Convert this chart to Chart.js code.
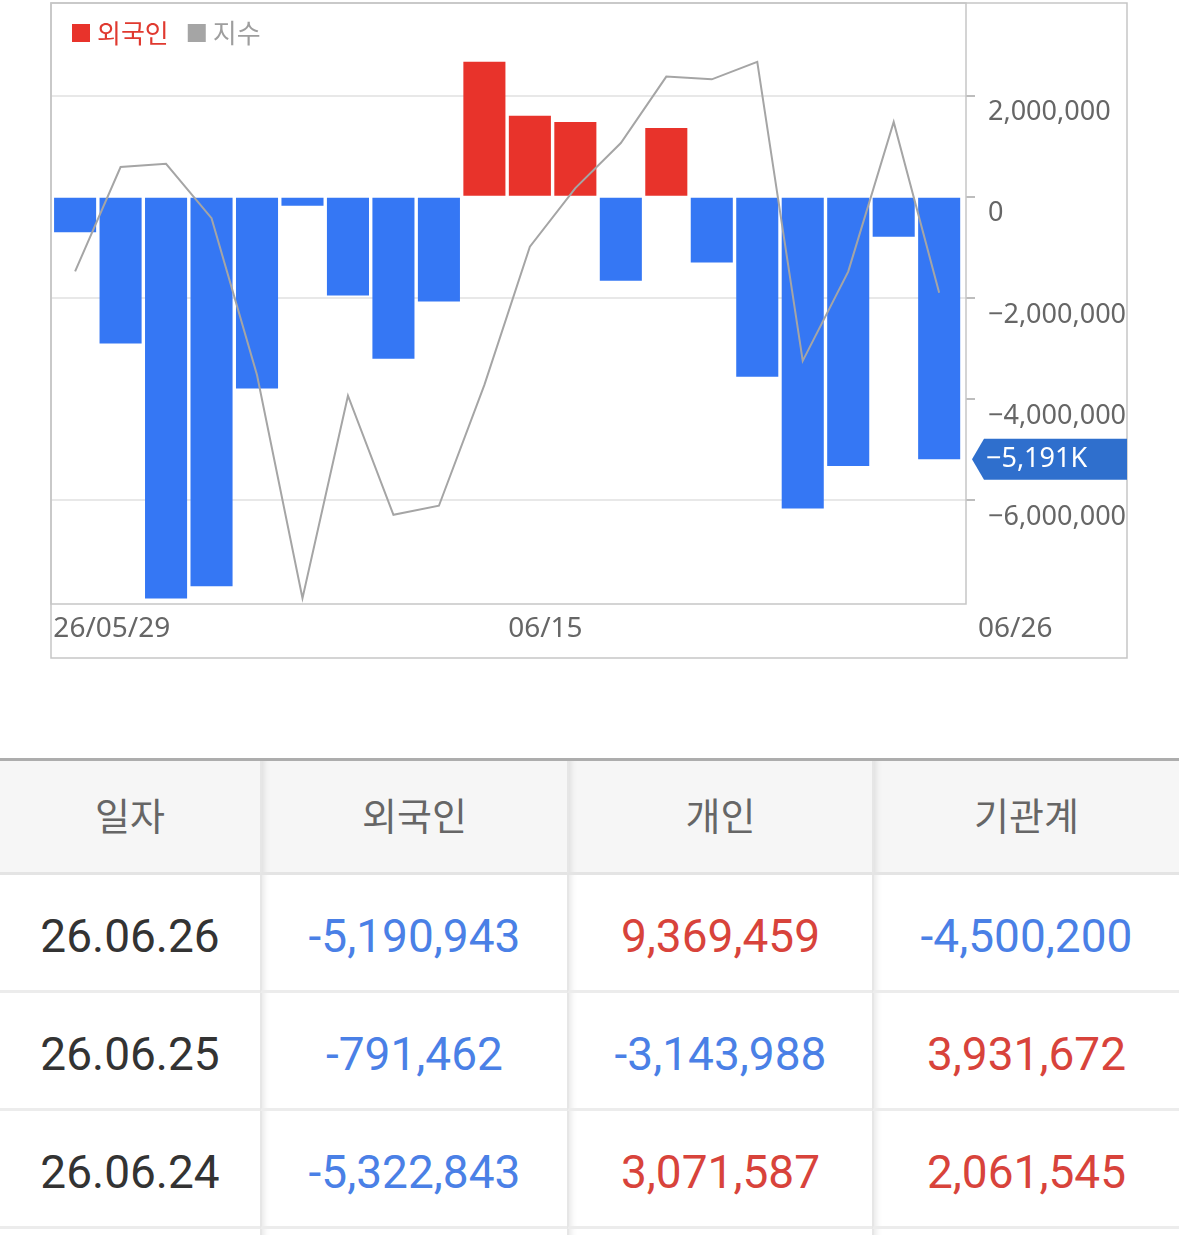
<!DOCTYPE html>
<html>
<head>
<meta charset="utf-8">
<script src="https://cdn.jsdelivr.net/npm/chart.js@4.4.0/dist/chart.umd.min.js"></script>
<style>
html,body{margin:0;padding:0;background:#fff;width:1179px;height:1235px;overflow:hidden;}
#wrap{position:absolute;left:0;top:0;width:1179px;height:660px;}
#tbl{position:absolute;left:0;top:758px;width:1179px;border-collapse:separate;border-spacing:0;table-layout:fixed;border-top:3px solid #adadad;}
#tbl th{height:105px;padding:0 0 6px 0;background:#f6f6f6;color:#666;font:400 38px "Noto Sans CJK KR","Noto Sans";border-bottom:3px solid #e4e4e4;text-align:center;}
#tbl td{height:108px;padding:7px 0 0 0;font:400 46px Roboto,"Noto Sans";text-align:center;border-bottom:3px solid #ececec;}
#tbl th+th,#tbl td+td{border-left:2px solid #e6e6e6;box-shadow:inset 8px 0 6px -6px rgba(0,0,0,0.10);}
#tbl td.date{color:#333;}
#tbl td.pos{color:#d8433b;}
#tbl td.neg{color:#4a80e6;}
#tbl tr.spacer td{height:30px;padding:0;}
</style>
</head>
<body>
<div id="wrap"><canvas id="c"></canvas></div>
<table id="tbl">
<colgroup><col style="width:260px"><col style="width:307px"><col style="width:305px"><col style="width:307px"></colgroup>
<thead><tr id="hdr"></tr></thead>
<tbody id="body"></tbody>
</table>
<script>
// ---- chart data ----
const dates = ['05/29','06/01','06/02','06/04','06/05','06/08','06/09','06/10','06/11','06/12','06/15','06/16','06/17','06/18','06/19','06/22','06/23','06/24','06/25','06/26'];
const foreignNet = [-700000,-2900000,-7940000,-7700000,-3790000,-180000,-1950000,-3200000,-2070000,2670000,1600000,1480000,-1660000,1360000,-1300000,-3560000,-6160000,-5322843,-791462,-5190943];
const indexValues = [2810.7,2845.4,2846.5,2828.4,2776.2,2701.9,2769.3,2729.7,2732.7,2772.9,2818.9,2838.4,2853.4,2875.5,2874.6,2880.4,2780.9,2810.6,2860.4,2803.6];
const xTickIndices = [0,10,19];
const xTickLabels = ['26/05/29','06/15','06/26'];
const yTickValues = [-6000000,-4000000,-2000000,0,2000000];
const yGridValues = [-6000000,-2000000,2000000];
const seriesLabels = ['외국인','지수'];

// ---- table data ----
const tableHeaders = ['일자','외국인','개인','기관계'];
const tableDates = ['26.06.26','26.06.25','26.06.24'];
const tableForeign = [-5190943,-791462,-5322843];
const tableIndividual = [9369459,-3143988,3071587];
const tableInstitution = [-4500200,3931672,2061545];

const RED = '#e8332b', BLUE = '#3577f4', GRAY = '#a5a5a5', FRAME = '#c6c6c6';
const TICKFONT = '"Noto Sans", "DejaVu Sans", sans-serif';

function fmt(v){ const s = Math.abs(v).toLocaleString('en-US'); return v < 0 ? '\u2212' + s : s; }

const framePlugin = {
  id:'frame',
  afterDraw(chart){
    const {ctx, chartArea:a} = chart;
    const ys = chart.scales.y, xs = chart.scales.x;
    ctx.save();
    ctx.strokeStyle = FRAME; ctx.lineWidth = 1.5;
    ctx.strokeRect(a.left, a.top, a.right - a.left, a.bottom - a.top);
    ctx.strokeRect(a.left, a.top, ys.right - a.left, a.bottom - a.top + 54);
    // x labels
    const half = (xs.getPixelForValue(1) - xs.getPixelForValue(0)) / 2;
    ctx.fillStyle = '#666'; ctx.font = '28px ' + TICKFONT;
    ctx.textBaseline = 'middle'; ctx.textAlign = 'left';
    xTickIndices.forEach((idx, k) => {
      let x = xs.getPixelForValue(idx) - half + 1;
      if (k === xTickIndices.length - 1) x = a.right + 12;
      ctx.fillText(xTickLabels[k], x, a.bottom + 25);
    });
    // legend
    ctx.font = '26px "Noto Sans CJK KR", sans-serif';
    let lx = a.left + 21; const ly = a.top + 30;
    const legendItems = [[seriesLabels[0], RED, '#e0392f'], [seriesLabels[1], GRAY, '#9e9e9e']];
    legendItems.forEach(([t, sq, tc]) => {
      ctx.fillStyle = sq; ctx.fillRect(lx, ly - 9, 18, 18);
      lx += 25;
      ctx.fillStyle = tc; ctx.fillText(t, lx, ly);
      lx += ctx.measureText(t).width + 19;
    });
    // current value tag
    const v = foreignNet[foreignNet.length - 1];
    const y = ys.getPixelForValue(v);
    const tip = a.right + 6, body = a.right + 18, right = ys.right, h = 20.5;
    ctx.fillStyle = '#2f6fcd';
    ctx.beginPath();
    ctx.moveTo(tip, y); ctx.lineTo(body, y - h); ctx.lineTo(right, y - h);
    ctx.lineTo(right, y + h); ctx.lineTo(body, y + h); ctx.closePath(); ctx.fill();
    ctx.fillStyle = '#fff'; ctx.font = '27px ' + TICKFONT;
    ctx.fillText(fmt(Math.round(v / 1000)) + 'K', body + 2, y);
    ctx.restore();
  }
};

new Chart(document.getElementById('c'), {
  data:{
    datasets:[
      { type:'line', label: seriesLabels[1], data: indexValues.map((v, i) => ({x:i, y:v})), yAxisID:'y2', borderColor: GRAY, borderWidth: 2, pointRadius: 0, tension: 0, order: 0 },
      { type:'bar', label: seriesLabels[0], data: foreignNet.map((v, i) => ({x:i, y:v})), yAxisID:'y', backgroundColor: foreignNet.map(v => v >= 0 ? RED : BLUE), barPercentage: 0.925, categoryPercentage: 1.0, order: 1 }
    ]
  },
  options:{
    responsive:true, maintainAspectRatio:false, animation:false,
    layout:{ padding:{ left:51, top:3, right:52, bottom:56 } },
    plugins:{ legend:{display:false}, tooltip:{enabled:false} },
    scales:{
      x:{ type:'linear', display:false, offset:false, min:-0.53, max:19.59 },
      y:{
        position:'right', min:-8050000, max:3830000,
        afterBuildTicks(s){ s.ticks = yTickValues.map(v => ({value:v})); },
        afterFit(s){ s.width = 161; s.paddingTop = 0; s.paddingBottom = 0; },
        grid:{ color: c => (c.tick && yGridValues.includes(c.tick.value)) ? '#e8e8e8' : 'rgba(0,0,0,0)', lineWidth:2, tickLength:9, tickColor:'#bdbdbd', tickWidth:2, drawOnChartArea:true },
        border:{ display:false },
        ticks:{ font:{ size:27, family: TICKFONT }, color:'#666', padding:13, labelOffset:17, callback: v => fmt(v) }
      },
      y2:{ display:false, min:2700, max:2900 }
    }
  },
  plugins:[framePlugin]
});

// ---- table ----
const hdr = document.getElementById('hdr');
tableHeaders.forEach(h => { const th = document.createElement('th'); th.textContent = h; hdr.appendChild(th); });
const body = document.getElementById('body');
tableDates.forEach((d, i) => {
  const tr = document.createElement('tr');
  const cells = [[d, 'date'], ...[tableForeign[i], tableIndividual[i], tableInstitution[i]].map(v => [v.toLocaleString('en-US'), v < 0 ? 'neg' : 'pos'])];
  cells.forEach(([t, cls]) => { const td = document.createElement('td'); td.textContent = t; td.className = cls; tr.appendChild(td); });
  body.appendChild(tr);
});
const sp = document.createElement('tr'); sp.className = 'spacer';
for (let k = 0; k < 4; k++) sp.appendChild(document.createElement('td'));
body.appendChild(sp);
</script>
</body>
</html>
